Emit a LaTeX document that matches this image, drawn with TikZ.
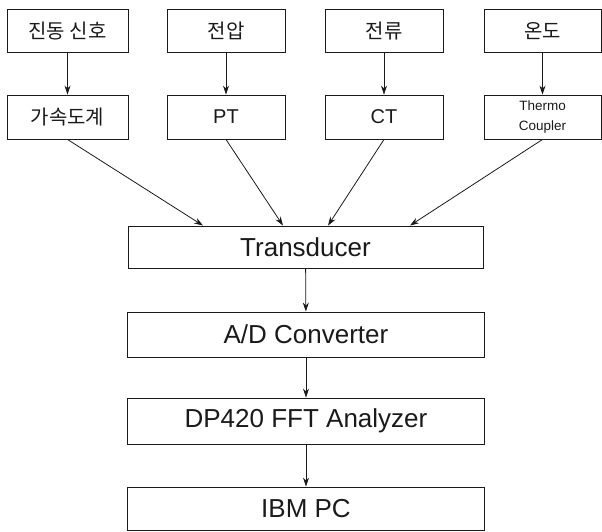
\documentclass[tikz,border=0pt]{standalone}
\usepackage{fontspec}
\setmainfont{Liberation Sans}
\newfontfamily\kofont{Noto Sans CJK KR}
\usetikzlibrary{arrows.meta,positioning,calc}
\definecolor{Ink}{HTML}{1A1A1A}

\tikzset{
  srcbox/.style={draw=Ink,line width=0.9pt,minimum width=118pt,minimum height=43pt,inner sep=0pt,font=\kofont\fontsize{20}{24}\selectfont,text=Ink},
  senbox/.style={srcbox,minimum height=44pt,font=\fontsize{20}{24}\selectfont},
  stagebox/.style={draw=Ink,line width=0.9pt,minimum width=357pt,minimum height=44pt,inner sep=0pt,font=\fontsize{26}{30}\selectfont,text=Ink},
  link/.style={->,Ink,line width=0.8pt}
}

\begin{document}
\begin{tikzpicture}[x=1pt,y=-1pt,>={Stealth[length=9pt,width=6pt]}]
\useasboundingbox (0,0) rectangle (602,531);
% measured quantities
\node[srcbox,minimum width=121pt] (vib) at (67.5,31) {진동 신호};
\node[srcbox] (volt) at (226,31) {전압};
\node[srcbox] (curr) at (384,31) {전류};
\node[srcbox,minimum width=117pt] (temp) at (542.5,31) {온도};
% sensors
\node[senbox,minimum width=121pt,font=\kofont\fontsize{20}{24}\selectfont] (acc) at (67.5,117) {가속도계};
\node[senbox] (pt) at (226,117) {PT};
\node[senbox] (ct) at (384,117) {CT};
\node[senbox,minimum width=117pt,align=center,font=\fontsize{13.5}{20}\selectfont] (tc) at (542.5,117) {Thermo\\Coupler};
% processing chain
\node[stagebox,minimum width=355pt,minimum height=42pt] (trans) at (305.5,247) {Transducer};
\node[stagebox,minimum height=45pt] (adc) at (306,334.5) {A/D Converter};
\node[stagebox,minimum height=46pt] (fft) at (306,421) {DP420 FFT Analyzer};
\node[stagebox,minimum height=43pt] (pc) at (306,508.5) {IBM PC};
% entry points on top of the transducer
\coordinate (in1) at ([xshift=-102.5pt]trans.north);
\coordinate (in2) at ([xshift=-22.5pt]trans.north);
\coordinate (in3) at ([xshift=22.5pt]trans.north);
\coordinate (in4) at ([xshift=104.5pt]trans.north);
\draw[link] (vib) -- (acc);
\draw[link] (volt) -- (pt);
\draw[link] (curr) -- (ct);
\draw[link] (temp) -- (tc);
\draw[link] (acc.south) -- (in1);
\draw[link] (pt.south) -- (in2);
\draw[link] (ct.south) -- (in3);
\draw[link] (tc.south) -- (in4);
\draw[link] (trans) -- (adc);
\draw[link] (adc) -- (fft);
\draw[link] (fft) -- (pc);
\end{tikzpicture}
\end{document}
